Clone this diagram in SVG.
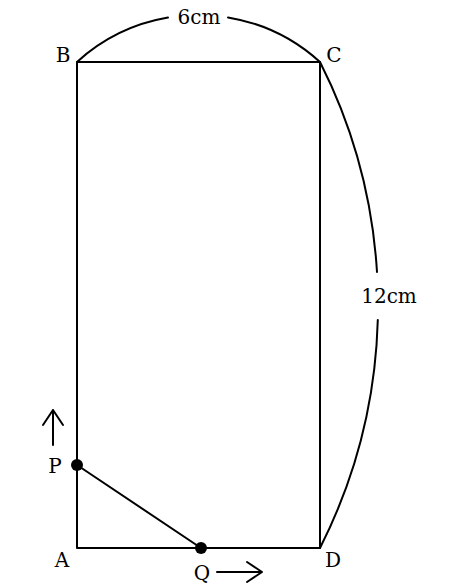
<svg xmlns="http://www.w3.org/2000/svg" width="462" height="586" viewBox="0 0 462 586">
<style>
.ln{fill:none;stroke:#000;stroke-width:2;stroke-linecap:round;stroke-linejoin:round}
.lbl{font-family:"DejaVu Serif","Liberation Serif",serif;font-size:20px;fill:#000}
.dot{fill:#000}
</style>
<rect width="462" height="586" fill="#fff"/>
<g id="connectors">
<path class="ln" d="M77,62 L320,62 L320,548 L77,548 Z"/>
<path class="ln" d="M77,465 L201,548"/>
<path class="ln" d="M77,62 A180.5,180.5 0 0 1 168,17.6"/>
<path class="ln" d="M228,17.4 A180.5,180.5 0 0 1 320,62"/>
<path class="ln" d="M320,62 A538,538 0 0 1 377,272"/>
<path class="ln" d="M377.8,320 A538,538 0 0 1 320,548"/>
<path class="ln" d="M53,445 L53,410 M43,425 L53,410 L63,425"/>
<path class="ln" d="M217,572 L262,572 M247,562 L262,572 L247,582"/>
</g>
<g id="B"><text class="lbl" x="63" y="62" text-anchor="middle">B</text></g>
<g id="C"><text class="lbl" x="334" y="62" text-anchor="middle">C</text></g>
<g id="A"><text class="lbl" x="62" y="567" text-anchor="middle">A</text></g>
<g id="D"><text class="lbl" x="333" y="567" text-anchor="middle">D</text></g>
<g id="P"><circle class="dot" cx="77" cy="465" r="6"/><text class="lbl" x="55" y="473" text-anchor="middle">P</text></g>
<g id="Q"><circle class="dot" cx="201" cy="548" r="6"/><text class="lbl" x="202" y="580" text-anchor="middle">Q</text></g>
<g id="len6"><text class="lbl" x="199" y="24" text-anchor="middle">6cm</text></g>
<g id="len12"><text class="lbl" x="389" y="303" text-anchor="middle">12cm</text></g>
</svg>
